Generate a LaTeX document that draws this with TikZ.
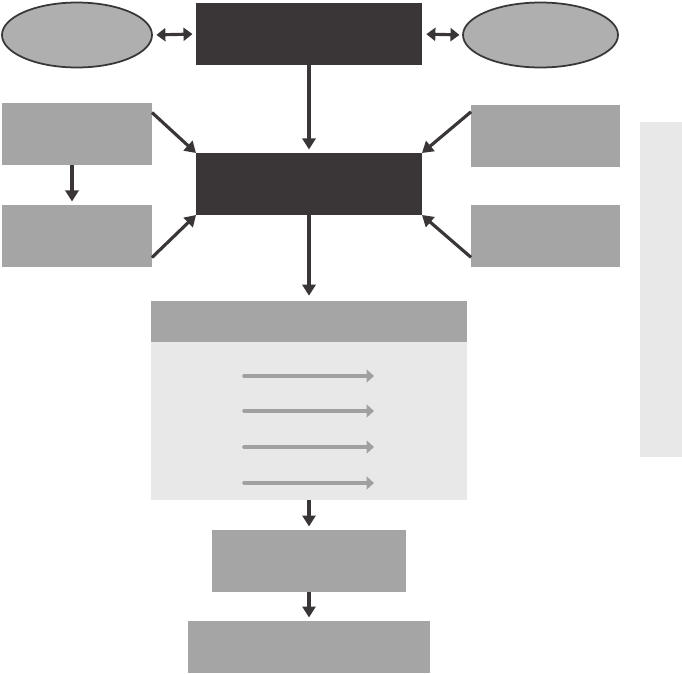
\documentclass[tikz,border=0pt]{standalone}
\usetikzlibrary{shapes.geometric,arrows.meta}
\definecolor{DarkGrey}{HTML}{3A3637}
\definecolor{MidGrey}{HTML}{A5A5A5}
\definecolor{OvalGrey}{HTML}{AFAFAF}
\definecolor{PaleGrey}{HTML}{E8E8E8}
\definecolor{ArrowGrey}{HTML}{A0A0A0}
\begin{document}
\begin{tikzpicture}[x=0.02cm, y=-0.02cm,
    every node/.style={inner sep=0pt, outer sep=0pt},
    darkbox/.style={fill=DarkGrey, minimum width=4.52cm, minimum height=1.24cm},
    greybox/.style={fill=MidGrey, minimum height=1.24cm},
    oval/.style={ellipse, draw=DarkGrey, line width=1pt, fill=OvalGrey, minimum height=1.3cm},
    link/.style={-{Triangle[length=2.2mm, width=2.6mm]}, DarkGrey, line width=1.8pt},
    duallink/.style={{Triangle[length=1.8mm, width=2.6mm]}-{Triangle[length=1.8mm, width=2.6mm]}, DarkGrey, line width=1.8pt, shorten <=2.5pt, shorten >=2pt},
    flow/.style={-{Triangle[length=1.5mm, width=2.6mm]}, ArrowGrey, line width=2pt, line cap=round}]
  \useasboundingbox (0,0) rectangle (682,673);
  \node[oval, minimum width=3cm] (lOval) at (77,35) {};
  \node[darkbox] (top) at (309,34) {};
  \node[oval, minimum width=3.1cm] (rOval) at (540.5,35) {};
  \node[greybox, minimum width=3cm] (lBoxA) at (77,134) {};
  \node[greybox, minimum width=3cm] (lBoxB) at (77,236) {};
  \node[darkbox] (mid) at (309,184) {};
  \node[greybox, minimum width=2.98cm] (rBoxA) at (545.5,136) {};
  \node[greybox, minimum width=2.98cm] (rBoxB) at (545.5,236) {};
  \node[fill=MidGrey, minimum width=6.32cm, minimum height=0.82cm] (panelHead) at (309,321.5) {};
  \node[fill=PaleGrey, minimum width=6.32cm, minimum height=3.16cm] (panelBody) at (309,421) {};
  \node[greybox, minimum width=3.9cm] (lower) at (309,561) {};
  \node[greybox, minimum width=4.86cm, minimum height=1.04cm] (bottom) at (309,647) {};
  \node[fill=PaleGrey, minimum width=0.84cm, minimum height=6.7cm] (side) at (661,289.5) {};
  \draw[duallink] (lOval.east) -- (top.west);
  \draw[duallink] (top.east) -- (rOval.west);
  \draw[link] (top.south) -- ([yshift=2pt]mid.north);
  \draw[link] (lBoxA.south -| 72,0) -- ([yshift=2pt]lBoxB.north -| 72,0);
  \draw[link] (lBoxA.16) -- (mid.north west);
  \draw[link] (lBoxB.-16) -- (mid.south west);
  \draw[link] (rBoxA.162) -- (mid.north east);
  \draw[link] (rBoxB.-164) -- (mid.south east);
  \draw[link] (mid.south) -- ([yshift=3pt]panelHead.north);
  \draw[link] (panelBody.south) -- ([yshift=2pt]lower.north);
  \draw[link] (lower.south) -- ([yshift=2pt]bottom.north);
  \foreach \y [count=\i] in {376,411,447,483} {
    \coordinate (flowS\i) at (244,\y);
    \coordinate (flowE\i) at (374,\y);
    \draw[flow] (flowS\i) -- (flowE\i);
  }
\end{tikzpicture}
\end{document}
